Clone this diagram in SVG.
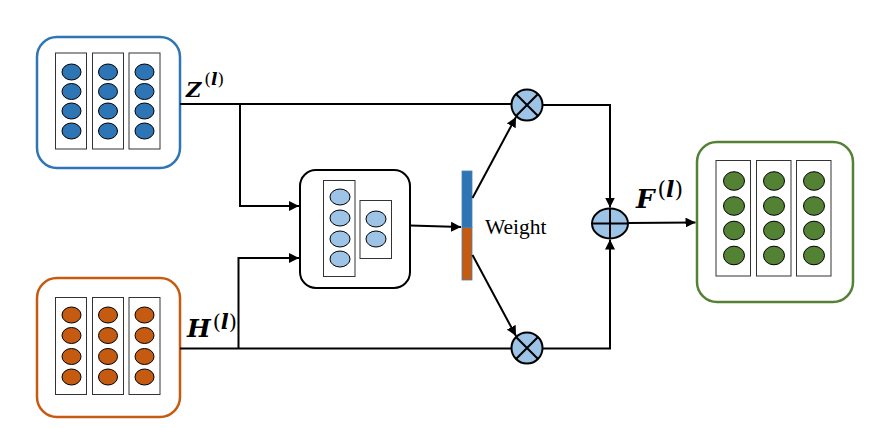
<svg xmlns="http://www.w3.org/2000/svg" width="885" height="428" viewBox="0 0 885 428">
<defs>
<marker id="ah" viewBox="0 0 10 10" refX="10" refY="5" markerWidth="5" markerHeight="5" orient="auto" markerUnits="strokeWidth">
<path d="M0,0 L10,5 L0,10 z" fill="#000"/>
</marker>
</defs>
<style>
.col{fill:#fff;stroke:#333;stroke-width:1}
.eb{fill:#2E75B6;stroke:#000;stroke-width:1}
.eo{fill:#C55A11;stroke:#000;stroke-width:1}
.eg{fill:#548235;stroke:#000;stroke-width:1}
.el{fill:#9DC3E6;stroke:#000;stroke-width:1}
.ln{fill:none;stroke:#000;stroke-width:2}
.lbl{font-family:"DejaVu Serif",serif;font-weight:bold;font-style:italic;fill:#000}
.sup{font-weight:normal;font-style:normal}
.it{font-style:italic;font-weight:bold}
.op{fill:#9DC3E6;stroke:#000;stroke-width:2}
</style>
<rect width="885" height="428" fill="#fff"/>

<g id="Z">
<rect x="37" y="37" width="143" height="131" rx="20" fill="#fff" stroke="#2E75B6" stroke-width="2.5"/>
<rect class="col" x="55.5" y="53" width="31" height="96"/>
<rect class="col" x="92.5" y="53" width="31" height="96"/>
<rect class="col" x="129" y="53" width="31" height="96"/>
<ellipse class="eb" cx="71.5" cy="72" rx="9.5" ry="8"/>
<ellipse class="eb" cx="71.5" cy="91.5" rx="9.5" ry="8"/>
<ellipse class="eb" cx="71.5" cy="111" rx="9.5" ry="8"/>
<ellipse class="eb" cx="71.5" cy="131" rx="9.5" ry="8"/>
<ellipse class="eb" cx="108" cy="72" rx="9.5" ry="8"/>
<ellipse class="eb" cx="108" cy="91.5" rx="9.5" ry="8"/>
<ellipse class="eb" cx="108" cy="111" rx="9.5" ry="8"/>
<ellipse class="eb" cx="108" cy="131" rx="9.5" ry="8"/>
<ellipse class="eb" cx="144.5" cy="72" rx="9.5" ry="8"/>
<ellipse class="eb" cx="144.5" cy="91.5" rx="9.5" ry="8"/>
<ellipse class="eb" cx="144.5" cy="111" rx="9.5" ry="8"/>
<ellipse class="eb" cx="144.5" cy="131" rx="9.5" ry="8"/>
</g>

<g id="H">
<rect x="37" y="278" width="143" height="139" rx="20" fill="#fff" stroke="#C55A11" stroke-width="2.5"/>
<rect class="col" x="55.5" y="297.5" width="31" height="97"/>
<rect class="col" x="92.5" y="297.5" width="31" height="97"/>
<rect class="col" x="129" y="297.5" width="31" height="97"/>
<ellipse class="eo" cx="71.5" cy="315" rx="9.5" ry="8"/>
<ellipse class="eo" cx="71.5" cy="335.5" rx="9.5" ry="8"/>
<ellipse class="eo" cx="71.5" cy="356.5" rx="9.5" ry="8"/>
<ellipse class="eo" cx="71.5" cy="377" rx="9.5" ry="8"/>
<ellipse class="eo" cx="108" cy="315" rx="9.5" ry="8"/>
<ellipse class="eo" cx="108" cy="335.5" rx="9.5" ry="8"/>
<ellipse class="eo" cx="108" cy="356.5" rx="9.5" ry="8"/>
<ellipse class="eo" cx="108" cy="377" rx="9.5" ry="8"/>
<ellipse class="eo" cx="144.5" cy="315" rx="9.5" ry="8"/>
<ellipse class="eo" cx="144.5" cy="335.5" rx="9.5" ry="8"/>
<ellipse class="eo" cx="144.5" cy="356.5" rx="9.5" ry="8"/>
<ellipse class="eo" cx="144.5" cy="377" rx="9.5" ry="8"/>
</g>

<g id="fusion">
<rect x="300" y="170" width="110" height="118" rx="16" fill="#fff" stroke="#000" stroke-width="2"/>
<rect class="col" x="323.5" y="180.5" width="31.5" height="96"/>
<rect class="col" x="360" y="200.5" width="31.5" height="58"/>
<ellipse class="el" cx="340" cy="197" rx="10" ry="8"/>
<ellipse class="el" cx="340" cy="218" rx="10" ry="8"/>
<ellipse class="el" cx="340" cy="239" rx="10" ry="8"/>
<ellipse class="el" cx="340" cy="259" rx="10" ry="8"/>
<ellipse class="el" cx="376" cy="219" rx="10" ry="8"/>
<ellipse class="el" cx="376" cy="239" rx="10" ry="8"/>
</g>

<g id="weight">
<rect x="462" y="171" width="10" height="56.5" fill="#2E75B6" stroke="#4a7fb0" stroke-width="0.8"/>
<rect x="462" y="227.5" width="10" height="52.5" fill="#C55A11" stroke="#4a7fb0" stroke-width="0.8"/>
<text x="485" y="234" font-family="Liberation Serif, serif" font-size="21.5" fill="#000">Weight</text>
</g>

<g id="mul1">
<circle class="op" cx="527" cy="105" r="15.5"/>
<path class="ln" d="M516,94 L538,116 M538,94 L516,116" stroke-width="1.8"/>
</g>
<g id="mul2">
<circle class="op" cx="527" cy="348" r="15.5"/>
<path class="ln" d="M516,337 L538,359 M538,337 L516,359" stroke-width="1.8"/>
</g>
<g id="add">
<ellipse class="op" cx="610" cy="223.5" rx="18" ry="15"/>
<path class="ln" d="M592,223.5 L628,223.5 M610,208.5 L610,238.5" stroke-width="1.8"/>
</g>

<g id="F">
<rect x="697" y="142" width="156" height="160" rx="20" fill="#fff" stroke="#548235" stroke-width="2.5"/>
<rect class="col" x="716" y="160.5" width="34.5" height="115.5"/>
<rect class="col" x="756.5" y="160.5" width="34.5" height="115.5"/>
<rect class="col" x="796.5" y="160.5" width="34.5" height="115.5"/>
<ellipse class="eg" cx="734" cy="181" rx="10.5" ry="9.3"/>
<ellipse class="eg" cx="734" cy="206" rx="10.5" ry="9.3"/>
<ellipse class="eg" cx="734" cy="230.5" rx="10.5" ry="9.3"/>
<ellipse class="eg" cx="734" cy="255.5" rx="10.5" ry="9.3"/>
<ellipse class="eg" cx="774" cy="181" rx="10.5" ry="9.3"/>
<ellipse class="eg" cx="774" cy="206" rx="10.5" ry="9.3"/>
<ellipse class="eg" cx="774" cy="230.5" rx="10.5" ry="9.3"/>
<ellipse class="eg" cx="774" cy="255.5" rx="10.5" ry="9.3"/>
<ellipse class="eg" cx="814" cy="181" rx="10.5" ry="9.3"/>
<ellipse class="eg" cx="814" cy="206" rx="10.5" ry="9.3"/>
<ellipse class="eg" cx="814" cy="230.5" rx="10.5" ry="9.3"/>
<ellipse class="eg" cx="814" cy="255.5" rx="10.5" ry="9.3"/>
</g>

<g id="connectors">
<path class="ln" d="M180,104 L511.5,104"/>
<path class="ln" d="M240,104 L240,206 L299,206" marker-end="url(#ah)"/>
<path class="ln" d="M180,348.5 L511.5,348.5"/>
<path class="ln" d="M238.5,348.5 L238.5,258 L299,258" marker-end="url(#ah)"/>
<path class="ln" d="M410,225.5 L461,227" marker-end="url(#ah)"/>
<path class="ln" d="M472.5,198 L516,117" marker-end="url(#ah)"/>
<path class="ln" d="M472.5,255 L516,336" marker-end="url(#ah)"/>
<path class="ln" d="M542.5,105 L610,105 L610,207.5" marker-end="url(#ah)"/>
<path class="ln" d="M542.5,348.5 L610,348.5 L610,239.5" marker-end="url(#ah)"/>
<path class="ln" d="M628,223 L695.5,222.5" marker-end="url(#ah)"/>
</g>

<g id="labels">
<text class="lbl" x="186" y="97" font-size="21">Z<tspan class="sup" font-size="17" dx="3" dy="-12">(<tspan class="it">l</tspan>)</tspan></text>
<text class="lbl" x="187" y="337" font-size="25">H<tspan class="sup" font-size="21" dx="2" dy="-8">(<tspan class="it">l</tspan>)</tspan></text>
<text class="lbl" x="636" y="208" font-size="26">F<tspan class="sup" font-size="22" dx="3" dy="-11">(<tspan class="it">l</tspan>)</tspan></text>
</g>
</svg>
